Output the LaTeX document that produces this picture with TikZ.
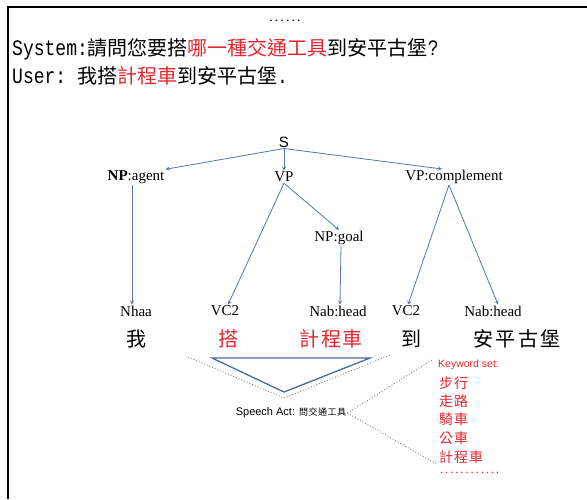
\documentclass[tikz,border=0pt]{standalone}
\usepackage{fontspec}
\setmainfont{Liberation Serif}
\setsansfont{Liberation Sans}
\setmonofont[FakeStretch=0.82]{Liberation Mono}
\newfontfamily\cjk{Noto Sans CJK TC}
\usetikzlibrary{arrows}
\usetikzlibrary{positioning}
\definecolor{kwred}{RGB}{228,38,46}
\definecolor{treeblue}{RGB}{84,118,170}
\newcommand{\zh}[1]{{\cjk\fontsize{20}{24}\selectfont #1}}
\newcommand{\dotrow}[1]{\hbox to #1{\xleaders\hbox to 5pt{\hss.\hss}\hfill}}

\begin{document}
\begin{tikzpicture}[x=1pt,y=-1pt,>=stealth,
    lbl/.style={inner sep=1pt,font=\fontsize{15}{18}\selectfont},
    word/.style={inner sep=1pt,font=\cjk\fontsize{20}{24}\selectfont},
    branch/.style={->,color=treeblue,line width=0.8pt},
    guide/.style={dotted,color=gray,line width=0.9pt},
    kw/.style={anchor=west,inner sep=0pt,text=kwred,font=\cjk\fontsize{14}{16}\selectfont}
    ]
\useasboundingbox (0,0) rectangle (587,499);
\draw [line width=1.6pt] (587,7) -- (8,7) -- (8,499);

% dialogue
\node [inner sep=0pt] (dots) at (285,21) {\fontsize{14}{14}\selectfont\dotrow{34pt}};
\node [anchor=base west,inner sep=0pt] (sys) at (12,55)
  {\ttfamily\fontsize{22}{24}\selectfont System:\zh{請問您要搭\textcolor{kwred}{哪一種交通工具}到安平古堡}?};
\node [anchor=base west,inner sep=0pt] (usr) at (12,83)
  {\ttfamily\fontsize{22}{24}\selectfont User: \zh{我搭\textcolor{kwred}{計程車}到安平古堡}.};

% tree
\node [inner sep=1pt,font=\sffamily\fontsize{15}{18}\selectfont] (s) at (284,142) {S};
\node [lbl] (agent) at (136,177) {\textbf{NP}:agent};
\node [lbl] (vp) at (284,177) {VP};
\node [lbl] (comp) at (454,177) {VP:complement};
\node [lbl] (goal) at (339,238) {NP:goal};
\node [lbl] (nhaa) at (136,311) {Nhaa};
\node [lbl] (vca) at (225,311) {VC2};
\node [lbl] (nab1) at (338,311) {Nab:head};
\node [lbl] (vcb) at (406,311) {VC2};
\node [lbl] (nab2) at (493,311) {Nab:head};

\node [word] (wo) at (136,339) {我};
\node [word,text=kwred] (da) at (228,339) {搭};
\node [word,text=kwred] (taxi) at (331,339) {計\hspace{1.5pt}程\hspace{1.5pt}車};
\node [word] (dao) at (411,339) {到};
\node [word] (fort) at (517,339) {安\hspace{2.5pt}平\hspace{2.5pt}古\hspace{2.5pt}堡};

\draw [branch] (s.south) -- (agent.north east);
\draw [branch] (s.south) -- (vp.north);
\draw [branch] (s.south) -- ([xshift=-12pt]comp.north);
\draw [branch] ([xshift=-4pt]agent.south) -- ([xshift=-4pt]nhaa.north);
\draw [branch] (vp.south) -- ([xshift=3pt]vca.north);
\draw [branch] (vp.south) -- (goal.north);
\draw [branch] ([xshift=2pt]goal.south) -- ([xshift=2pt]nab1.north);
\draw [branch] ([xshift=-5pt]comp.south) -- ([xshift=2pt]vcb.north);
\draw [branch] ([xshift=-5pt]comp.south) -- ([xshift=5pt]nab2.north);

% speech act
\draw [color=treeblue!90!black,line width=1.3pt] (212,358) -- (370,358) -- (284,392) -- cycle;
\draw [guide] (188,357) -- (284,398) -- (390,355);
\node [inner sep=1pt,font=\sffamily\fontsize{11}{12}\selectfont] (act) at (291,413)
  {Speech Act: {\cjk\fontsize{9}{10}\selectfont 問\hspace{0.5pt}交\hspace{0.5pt}通\hspace{0.5pt}工\hspace{0.5pt}具}};

% keyword set
\node [anchor=west,inner sep=0pt,text=kwred,font=\sffamily\fontsize{10.5}{12}\selectfont] (kwhead) at (438,365) {Keyword set:};
\node [kw] (kw1) at (439,383) {步\hspace{1pt}行};
\node [kw] (kw2) at (439,401) {走\hspace{1pt}路};
\node [kw] (kw3) at (439,419) {騎\hspace{1pt}車};
\node [kw] (kw4) at (439,438) {公\hspace{1pt}車};
\node [kw] (kw5) at (439,457) {計\hspace{1pt}程\hspace{1pt}車};
\node [anchor=west,inner sep=0pt,text=kwred,font=\fontsize{13}{13}\selectfont] (kwdots) at (439,473) {\dotrow{61pt}};

\draw [guide] (act.east) -- ([xshift=-6pt]kwhead.north west);
\draw [guide] (act.east) -- ([xshift=-3pt]kw5.south west);
\end{tikzpicture}
\end{document}
